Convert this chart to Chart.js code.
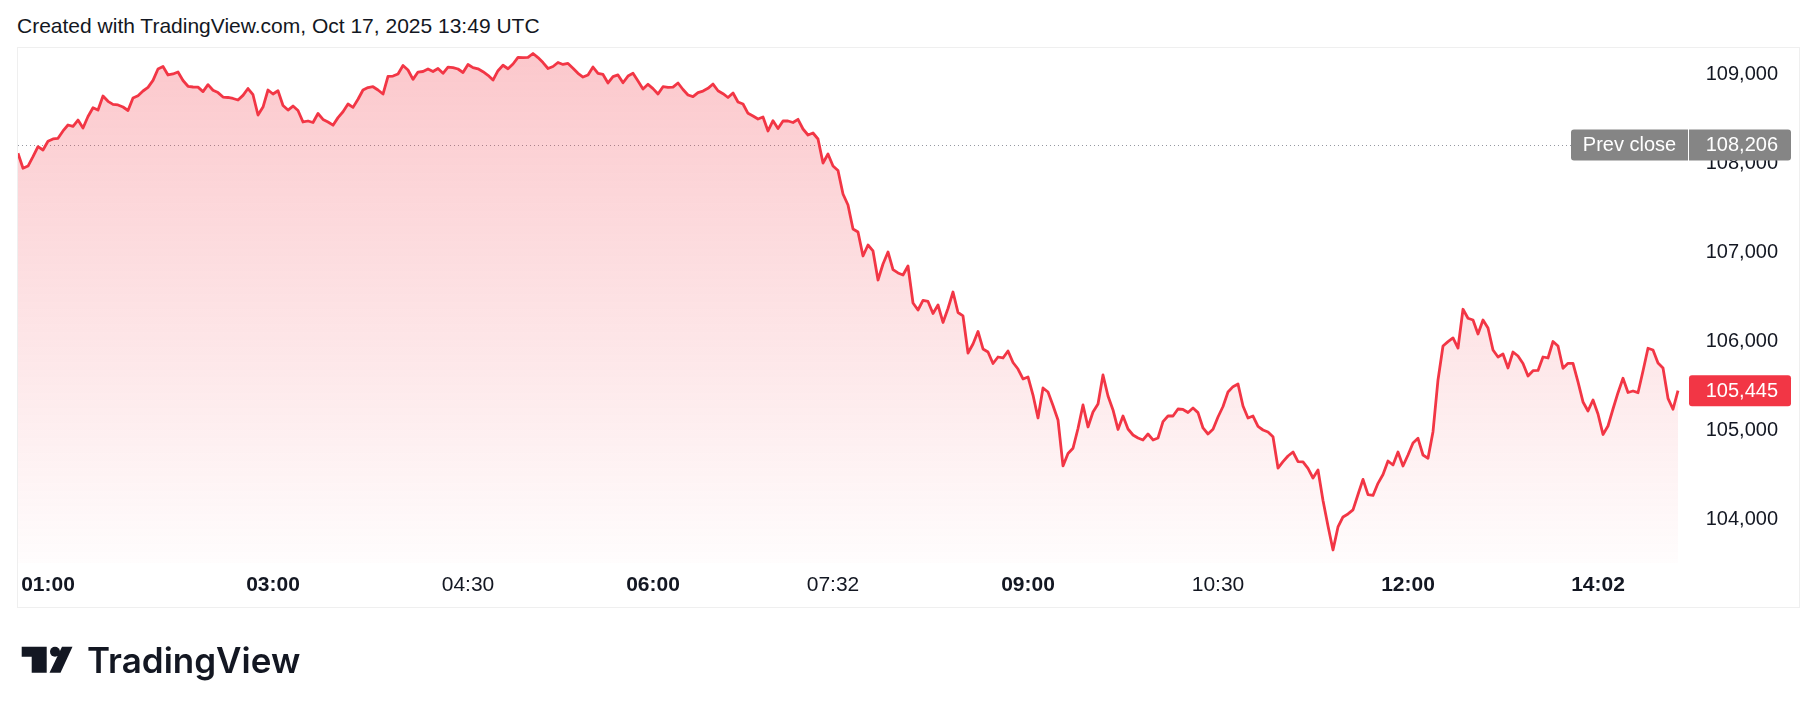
<!DOCTYPE html>
<html>
<head>
<meta charset="utf-8">
<script src="https://cdn.jsdelivr.net/npm/chart.js@4.4.1/dist/chart.umd.min.js"></script>
<style>
  html, body { margin: 0; padding: 0; background: #fff; }
  body { width: 1818px; height: 713px; position: relative; overflow: hidden;
         font-family: "Liberation Sans", Arial, sans-serif; color: #131722; }
  #title { position: absolute; left: 17px; top: 15px; font-size: 21px; line-height: 21px; white-space: nowrap; }
  #frame { position: absolute; left: 17px; top: 47px; width: 1783px; height: 561px;
           border: 1px solid #efefef; box-sizing: border-box; }
  #chart { position: absolute; left: 0; top: 0; }
  #logo { position: absolute; left: 0; top: 0; }
</style>
</head>
<body>
<div id="title">Created with TradingView.com, Oct 17, 2025 13:49 UTC</div>
<div id="frame"></div>
<canvas id="chart" width="1818" height="713"></canvas>
<svg id="logo" width="320" height="713">
  <path d="M21.7 646.7 H46.7 V672.7 H31.7 V656.7 H21.7 Z" fill="#131722"/>
  <circle cx="55" cy="651.7" r="5" fill="#131722"/>
  <path d="M62 646.7 H72.5 L60.5 672.7 H49.5 Z" fill="#131722"/>
  <text x="87" y="672.7" font-family="Inter, 'Noto Sans', sans-serif" font-weight="600" font-size="35" fill="#131722">TradingView</text>
</svg>
<script>
// BTC/USD, 5-bar resampled closes
const prices = [
  108112, 107944, 107969, 108074, 108187, 108149, 108247, 108273, 108281, 108363,
  108430, 108415, 108486, 108396, 108525, 108624, 108598, 108756, 108696, 108662,
  108655, 108632, 108593, 108733, 108759, 108812, 108853, 108931, 109059, 109087,
  108992, 109003, 109025, 108930, 108865, 108857, 108855, 108805, 108883, 108820,
  108794, 108744, 108739, 108728, 108711, 108763, 108840, 108770, 108542, 108632,
  108823, 108778, 108815, 108649, 108598, 108643, 108593, 108464, 108475, 108458,
  108559, 108493, 108464, 108428, 108513, 108579, 108666, 108628, 108719, 108823,
  108851, 108860, 108823, 108778, 108977, 108980, 109003, 109098, 109048, 108943,
  109025, 109031, 109059, 109031, 109065, 109011, 109081, 109074, 109059, 109020,
  109110, 109075, 109061, 109029, 108988, 108935, 109040, 109101, 109062, 109115,
  109190, 109188, 109189, 109233, 109187, 109131, 109065, 109087, 109132, 109110,
  109121, 109068, 109011, 108969, 108992, 109081, 109011, 108998, 108902, 108973,
  108993, 108905, 108980, 109011, 108924, 108834, 108887, 108839, 108778, 108860,
  108852, 108855, 108902, 108829, 108767, 108748, 108794, 108811, 108842, 108890,
  108815, 108782, 108739, 108789, 108688, 108666, 108561, 108531, 108497, 108520,
  108363, 108478, 108390, 108475, 108475, 108458, 108494, 108385, 108318, 108340,
  108273, 108003, 108104, 107969, 107919, 107655, 107531, 107262, 107228, 106959,
  107082, 107015, 106689, 106869, 107004, 106806, 106768, 106745, 106846, 106431,
  106352, 106459, 106448, 106313, 106408, 106212, 106369, 106554, 106324, 106285,
  105869, 105970, 106111, 105914, 105880, 105751, 105824, 105813, 105892, 105762,
  105689, 105577, 105600, 105397, 105139, 105476, 105431, 105280, 105117, 104600,
  104740, 104799, 105021, 105285, 105038, 105206, 105296, 105622, 105386, 105229,
  105010, 105161, 105015, 104948, 104914, 104892, 104959, 104892, 104914, 105098,
  105161, 105161, 105240, 105235, 105201, 105251, 105199, 105027, 104959, 105012,
  105150, 105268, 105431, 105491, 105521, 105274, 105139, 105161, 105044, 105004,
  104982, 104929, 104577, 104648, 104712, 104757, 104648, 104645, 104572, 104465,
  104555, 104212, 103926, 103656, 103915, 104027, 104061, 104106, 104280, 104450,
  104278, 104269, 104405, 104504, 104656, 104611, 104757, 104600, 104723, 104858,
  104911, 104723, 104686, 104985, 105566, 105948, 105996, 106038, 105925, 106360,
  106259, 106240, 106083, 106240, 106150, 105903, 105824, 105858, 105701, 105880,
  105835, 105751, 105611, 105670, 105673, 105824, 105813, 105998, 105948, 105697,
  105753, 105753, 105544, 105319, 105218, 105341, 105184, 104954, 105049, 105240,
  105423, 105585, 105425, 105442, 105423, 105667, 105922, 105903, 105757, 105701,
  105360, 105237, 105445
];

const prevClose = 108206;
const lastPrice = 105445;

const priceTicks = [104000, 105000, 106000, 107000, 108000, 109000];
const timeLabels = ['01:00', '03:00', '04:30', '06:00', '07:32', '09:00', '10:30', '12:00', '14:02'];
const timeIndex = [6, 51, 90, 127, 163, 202, 240, 278, 316];
const boldTimes = ['01:00', '03:00', '06:00', '09:00', '12:00', '14:02'];

const RED = '#f23645';
const TEXT = '#131722';
const FONT = '"Liberation Sans", Arial, sans-serif';

// dotted prev close line + the two price tags on the right axis
const priceTags = {
  id: 'priceTags',
  beforeDatasetsDraw(chart) {
    const { ctx, chartArea, scales: { y } } = chart;
    const py = Math.round(y.getPixelForValue(prevClose)) + 0.5;
    ctx.save();
    ctx.strokeStyle = '#9598a1';
    ctx.lineWidth = 1;
    ctx.setLineDash([1, 3]);
    ctx.beginPath();
    ctx.moveTo(chartArea.left, py);
    ctx.lineTo(chartArea.right, py);
    ctx.stroke();
    ctx.restore();
  },
  afterDraw(chart) {
    const { ctx, chartArea, scales: { y } } = chart;
    const h = 31;
    const boxL = chartArea.right;
    const boxR = y.right + 13;

    function tag(left, right, value, color, text, radii, alignRight) {
      const cy = y.getPixelForValue(value);
      ctx.fillStyle = color;
      ctx.beginPath();
      ctx.roundRect(left, cy - h / 2, right - left, h, radii);
      ctx.fill();
      ctx.fillStyle = '#fff';
      ctx.font = '20px ' + FONT;
      ctx.textBaseline = 'middle';
      if (alignRight) {
        ctx.textAlign = 'right';
        ctx.fillText(text, y.right, cy + 1);
      } else {
        ctx.textAlign = 'center';
        ctx.fillText(text, (left + right) / 2, cy + 1);
      }
    }

    ctx.save();
    tag(boxL - 118, boxL - 1, prevClose, '#858585', 'Prev close', [3, 0, 0, 3], false);
    tag(boxL, boxR, prevClose, '#858585', prevClose.toLocaleString('en-US'), [0, 3, 3, 0], true);
    tag(boxL, boxR, lastPrice, RED, lastPrice.toLocaleString('en-US'), 3, true);
    ctx.restore();
  }
};

new Chart(document.getElementById('chart'), {
  type: 'line',
  data: {
    datasets: [{
      data: prices.map((v, i) => ({ x: i, y: v })),
      borderColor: RED,
      borderWidth: 2.8,
      borderJoinStyle: 'round',
      pointRadius: 0,
      tension: 0,
      fill: 'start',
      backgroundColor(context) {
        const { ctx, chartArea } = context.chart;
        if (!chartArea) return 'rgba(242,54,69,0.15)';
        const g = ctx.createLinearGradient(0, chartArea.top, 0, chartArea.bottom);
        g.addColorStop(0, 'rgba(242,54,69,0.28)');
        g.addColorStop(1, 'rgba(242,54,69,0.01)');
        return g;
      }
    }]
  },
  options: {
    responsive: false,
    animation: false,
    devicePixelRatio: 1,
    layout: { padding: { left: 18, top: 48, right: 40, bottom: 107 } },
    plugins: { legend: { display: false }, tooltip: { enabled: false } },
    scales: {
      x: {
        type: 'linear',
        min: 0,
        max: 334.2,
        grid: { display: false, drawTicks: false },
        border: { display: false },
        afterBuildTicks(scale) {
          scale.ticks = timeIndex.map(v => ({ value: v }));
        },
        afterFit(scale) { scale.height = 43; },
        ticks: {
          autoSkip: false,
          maxRotation: 0,
          padding: 10,
          color: TEXT,
          font(ctx) {
            const label = timeLabels[timeIndex.indexOf(ctx.tick && ctx.tick.value)];
            return { family: FONT, size: 21, weight: boldTimes.includes(label) ? 'bold' : 'normal' };
          },
          callback(value) {
            return timeLabels[timeIndex.indexOf(value)];
          }
        }
      },
      y: {
        position: 'right',
        min: 103510,
        max: 109295,
        grid: { display: false, drawTicks: false },
        border: { display: false },
        afterBuildTicks(scale) {
          scale.ticks = priceTicks.map(v => ({ value: v }));
        },
        afterFit(scale) { scale.width = 89; },
        ticks: {
          crossAlign: 'far',
          padding: 0,
          color: TEXT,
          font: { family: FONT, size: 20 },
          callback(value) {
            return value.toLocaleString('en-US');
          }
        }
      }
    }
  },
  plugins: [priceTags]
});
</script>
</body>
</html>
